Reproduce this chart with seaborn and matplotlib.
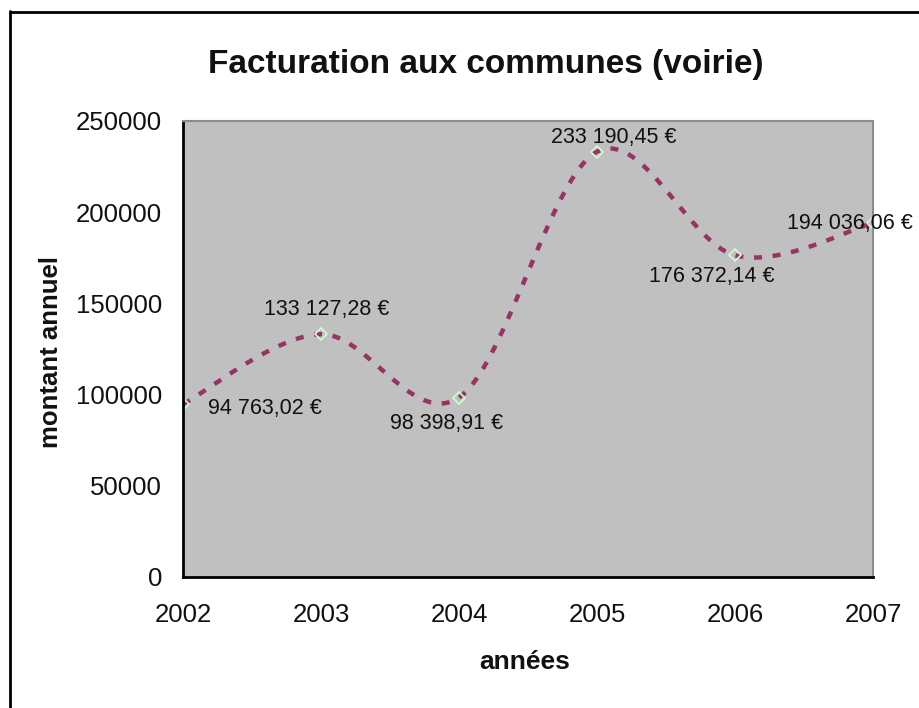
import matplotlib
matplotlib.use("Agg")
import matplotlib.pyplot as plt
import numpy as np
import pandas as pd
import seaborn as sns
from matplotlib.lines import Line2D

years = [2002, 2003, 2004, 2005, 2006, 2007]
amounts = [94763.02, 133127.28, 98398.91, 233190.45, 176372.14, 194036.06]
labels = ["94 763,02 €", "133 127,28 €", "98 398,91 €",
          "233 190,45 €", "176 372,14 €", "194 036,06 €"]
y_ticks = [0, 50000, 100000, 150000, 200000, 250000]

sns.set_theme(style="white")
plt.rcParams["font.family"] = ["Liberation Sans", "DejaVu Sans"]

W, H = 919, 708
fig = plt.figure(figsize=(W / 100, H / 100), dpi=100)
ax = fig.add_axes([183 / W, 1 - 577 / H, (873 - 183) / W, (577 - 121) / H])
ax.set_facecolor("#C0C0C0")

# Excel-style smoothed line (Bezier through the points, computed in pixel space)
px_per_x = 690 / 5
px_per_y = 456 / 250000
pts = np.column_stack([np.array(years, float) * px_per_x, np.array(amounts) * px_per_y])
ext = np.vstack([pts[0], pts, pts[-1]])
curve = []
t = np.linspace(0, 1, 40)[:, None]
for i in range(len(pts) - 1):
    p0, p3 = ext[i + 1], ext[i + 2]
    c1 = p0 + (ext[i + 2] - ext[i]) / 6
    c2 = p3 - (ext[i + 3] - ext[i + 1]) / 6
    seg = ((1 - t) ** 3) * p0 + 3 * ((1 - t) ** 2) * t * c1 + 3 * (1 - t) * t ** 2 * c2 + t ** 3 * p3
    curve.append(seg if i == 0 else seg[1:])
curve = np.vstack(curve)
smooth = pd.DataFrame({"x": curve[:, 0] / px_per_x, "y": curve[:, 1] / px_per_y})

sns.lineplot(data=smooth, x="x", y="y", ax=ax, color="#993366", lw=3.2,
             dashes=False, sort=False, estimator=None)
ax.lines[-1].set_dashes((1.8, 2.4))
ax.plot(years, amounts, linestyle="none", marker="D", markersize=6.5,
        markerfacecolor="none", markeredgecolor="#CCFFCC", markeredgewidth=1.2)

offsets = [(18, -3, "left"), (4, 18, "center"), (-9, -19, "center"),
           (12, 10, "center"), (-17, -15, "center"), (-16.5, 0, "center")]
for x, y, lab, (dx, dy, ha) in zip(years, amounts, labels, offsets):
    ax.annotate(lab, (x, y), xytext=(dx, dy), textcoords="offset points",
                ha=ha, va="center", fontsize=15.5, color="#111111")

ax.set_xlim(2002, 2007)
ax.set_ylim(0, 250000)
ax.set_xticks(years)
ax.set_yticks(y_ticks)
ax.set_xticklabels([str(y) for y in years])
ax.set_yticklabels([str(v) for v in y_ticks])
ax.tick_params(axis="both", direction="inout", length=12, width=1.5,
               color="black", labelsize=18.5, labelcolor="#111111")
ax.tick_params(axis="x", pad=13)
ax.tick_params(axis="y", pad=9)
ax.grid(False)

for side in ["left", "bottom"]:
    ax.spines[side].set_color("black")
    ax.spines[side].set_linewidth(2)
for side in ["top", "right"]:
    ax.spines[side].set_color("#8C8C8C")
    ax.spines[side].set_linewidth(1.5)

ax.set_xlabel("")
ax.set_ylabel("")
fig.text(486 / W, 1 - 65 / H, "Facturation aux communes (voirie)", ha="center",
         va="center", fontsize=24, fontweight="bold", color="#111111")
fig.text(51 / W, 1 - 352 / H, "montant annuel", ha="center", va="center",
         rotation=90, fontsize=18.5, fontweight="bold", color="#111111")
fig.text(525 / W, 1 - 662 / H, "années", ha="center", va="center",
         fontsize=19, fontweight="bold", color="#111111")

# chart frame
fig.add_artist(Line2D([10 / W, 10 / W], [0, 1 - 11 / H], transform=fig.transFigure,
                      color="black", lw=2))
fig.add_artist(Line2D([10 / W, 1], [1 - 12 / H, 1 - 12 / H], transform=fig.transFigure,
                      color="black", lw=2))

fig.savefig("out.png", dpi=100)
